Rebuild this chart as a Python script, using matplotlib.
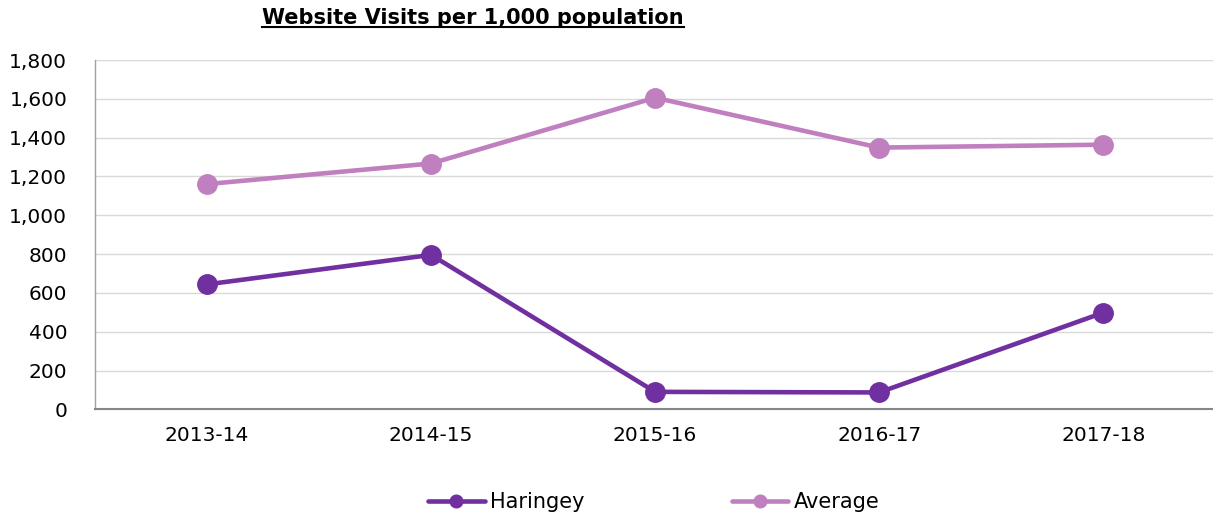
import matplotlib.pyplot as plt
from matplotlib.lines import Line2D
from matplotlib.ticker import FuncFormatter

# data
years = ['2013-14', '2014-15', '2015-16', '2016-17', '2017-18']
haringey = [644, 796, 90, 87, 498]
average = [1161, 1267, 1606, 1349, 1364]

haringey_colour = '#7030A0'
average_colour = '#C07FBE'

fig = plt.figure(figsize=(12.13, 5.18), dpi=100)
ax = fig.add_axes([95 / 1213, 0.2098, 1 - 95 / 1213, 0.884 - 0.2098])

x = range(len(years))
ax.plot(x, haringey, color=haringey_colour, lw=3.3, marker='o', ms=14,
        label='Haringey', solid_capstyle='round')
ax.plot(x, average, color=average_colour, lw=3.3, marker='o', ms=14,
        label='Average', solid_capstyle='round')

ax.set_xlim(-0.5, 4.49)
ax.set_ylim(0, 1800)
ax.set_yticks(range(0, 1801, 200))
ax.yaxis.set_major_formatter(FuncFormatter(lambda v, p: f'{int(v):,}'))
ax.set_xticks(list(x))
ax.set_xticklabels(years)
ax.grid(axis='y', color='#D9D9D9', lw=1)
ax.set_axisbelow(True)
for s in ['top', 'right']:
    ax.spines[s].set_visible(False)
ax.spines['bottom'].set_color('#868686')
ax.spines['bottom'].set_linewidth(1.5)
ax.spines['left'].set_color('#A0A0A0')
ax.spines['left'].set_linewidth(1)
ax.tick_params(length=0, labelsize=14.5, colors='black')
ax.tick_params(axis='y', pad=20)
ax.tick_params(axis='x', pad=12)

fig.legend(loc='center', bbox_to_anchor=(0.539, 0.031), ncol=2, frameon=False,
           fontsize=15, handlelength=2.7, handletextpad=0.25, columnspacing=7.1,
           markerscale=0.65)

title = fig.text(473 / 1213, 1 - 18 / 518, 'Website Visits per 1,000 population',
                 ha='center', va='center', fontsize=15, fontweight='bold')

# underline the title
fig.canvas.draw()
bb = title.get_window_extent().transformed(fig.transFigure.inverted())
fig.add_artist(Line2D([bb.x0, bb.x1], [bb.y0 + 0.002, bb.y0 + 0.002],
                      transform=fig.transFigure, color='black', lw=1.5))

fig.savefig('out.png', dpi=100)
